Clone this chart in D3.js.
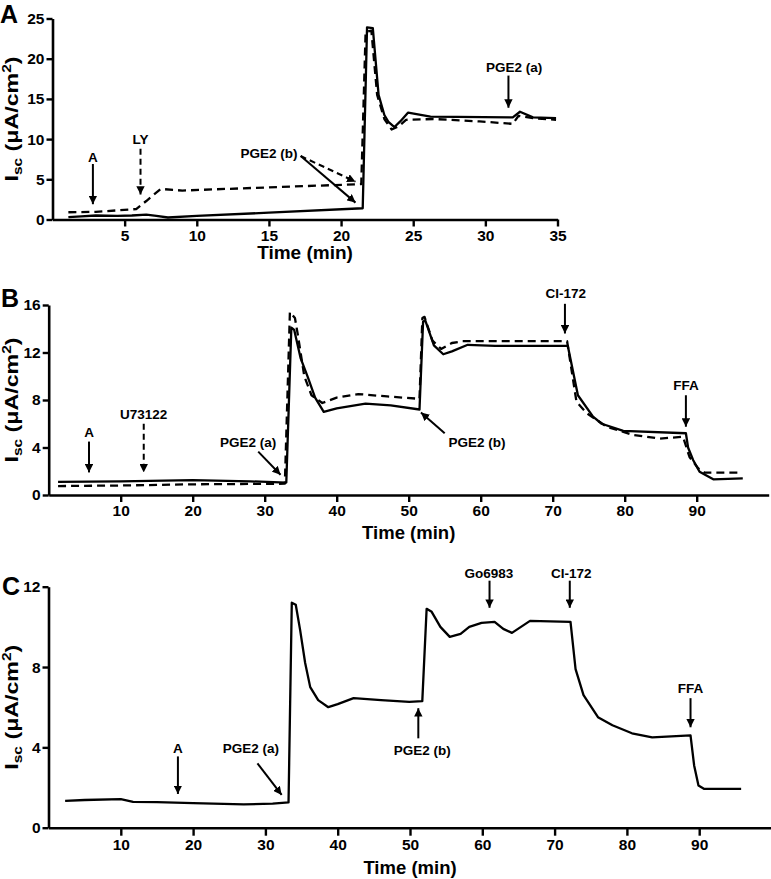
<!DOCTYPE html>
<html>
<head>
<meta charset="utf-8">
<script src="https://cdn.jsdelivr.net/npm/d3@7"></script>
<style>
  html, body { margin: 0; padding: 0; background: #fff; }
  svg { display: block; }
</style>
</head>
<body>
<svg id="chart" width="771" height="879"></svg>
<script>
// ---------------- DATA ----------------
// Panel A (time in min, Isc in µA/cm²)
const aSolid = [[1.1,0.3],[2,0.4],[3,0.5],[4.5,0.45],[5.5,0.5],[6.5,0.6],[7.2,0.45],[8,0.25],[10,0.45],[15,0.85],[21.5,1.4],[21.8,23.9],[22.2,23.8],[22.6,15.5],[23,13.0],[23.3,12.1],[23.7,11.5],[24.1,12.2],[24.65,13.3],[26.2,12.8],[31.9,12.7],[32.4,13.4],[33.3,12.7],[34.9,12.6]];
const aDashed = [[1.1,0.9],[3,0.95],[5.8,1.3],[6.5,2.3],[7.5,3.8],[9,3.6],[15,4.0],[21.4,4.4],[21.7,23.3],[22.1,23.5],[22.5,15.5],[23,12.5],[23.5,11.2],[24,11.6],[24.5,12.4],[26.4,12.5],[29.6,12.2],[31.9,11.9],[32.3,12.9],[33.3,12.6],[34.9,12.4]];
const aYTicks = [0,5,10,15,20,25];
const aXTicks = [5,10,15,20,25,30,35];
// annotations: label, label t, label v, arrow from (t,v) to (t,v), dashed
const aNotes = [
  {label:"A", lt:2.8, lv:7.2, x1:2.8, y1:6.9, x2:2.8, y2:1.9, dashed:false},
  {label:"LY", lt:6.1, lv:9.4, x1:6.1, y1:8.8, x2:6.1, y2:3.1, dashed:true},
  {label:"PGE2 (b)", lt:15.0, lv:7.6, x1:17.2, y1:7.9, x2:21.0, y2:2.1, dashed:false},
  {label:null, lt:0, lv:0, x1:17.2, y1:7.9, x2:21.0, y2:4.7, dashed:true},
  {label:"PGE2 (a)", lt:32.0, lv:18.3, x1:31.6, y1:17.9, x2:31.6, y2:13.9, dashed:false}
];

// Panel B
const bSolid = [[1.3,1.1],[10,1.15],[20,1.25],[28,1.15],[33,1.05],[33.7,14.1],[34.1,13.9],[35,11.5],[36,9.9],[37,8.2],[38.2,7.0],[40,7.3],[44,7.7],[47.5,7.55],[51.5,7.2],[52,14.6],[52.3,14.7],[53.5,12.6],[54.8,11.85],[56,12.1],[58.2,12.65],[62,12.55],[72.1,12.55],[73.5,8.4],[75.6,6.6],[76.8,6.0],[79.8,5.4],[88.5,5.2],[88.8,4.0],[89.5,2.95],[90.4,1.96],[92.3,1.32],[96.4,1.4]];
const bDashed = [[1.3,0.75],[10,0.8],[20,0.9],[32.8,0.95],[33.5,15.4],[34.2,14.9],[34.6,13.5],[35.5,10],[36.5,8.4],[38,7.75],[40,8.2],[43,8.5],[47,8.3],[51.5,8.1],[51.9,14.9],[52.2,15.0],[53.3,13.0],[54.5,12.3],[56,12.8],[57.5,12.95],[72,12.95],[73.3,7.86],[74.7,6.9],[77.5,5.75],[81.2,5.05],[84.9,4.75],[88.1,4.9],[89,3.2],[90.2,2.25],[91.1,1.88],[96.2,1.88]];
const bYTicks = [0,4,8,12,16];
const bXTicks = [10,20,30,40,50,60,70,80,90];
const bNotes = [
  {label:"A", lt:5.6, lv:4.9, x1:5.6, y1:4.5, x2:5.6, y2:1.9, dashed:false},
  {label:"U73122", lt:13.2, lv:6.4, x1:13.2, y1:6.0, x2:13.2, y2:1.9, dashed:true},
  {label:"PGE2 (a)", lt:27.7, lv:4.05, x1:29.1, y1:3.65, x2:32.2, y2:1.7, dashed:false},
  {label:"CI-172", lt:71.8, lv:16.55, x1:71.7, y1:16.1, x2:71.7, y2:13.6, dashed:false},
  {label:"PGE2 (b)", lt:59.5, lv:4.05, x1:55.0, y1:5.2, x2:51.7, y2:6.95, dashed:false},
  {label:"FFA", lt:88.5, lv:8.85, x1:88.5, y1:8.4, x2:88.5, y2:5.75, dashed:false}
];

// Panel C
const cSolid = [[2.3,1.34],[5,1.38],[10,1.42],[11.7,1.29],[15,1.27],[20,1.22],[27,1.16],[31,1.2],[33.2,1.26],[33.65,11.2],[34.2,11.1],[34.8,9.85],[35.5,8.2],[36.2,7.0],[37.3,6.35],[38.7,6.0],[40,6.15],[42.2,6.45],[46,6.35],[49.9,6.27],[51.7,6.3],[52.3,10.9],[53,10.75],[54.2,10.0],[55.5,9.5],[57,9.65],[58.2,10.0],[59.9,10.2],[61.7,10.25],[62.9,9.9],[64.1,9.7],[66.6,10.3],[72.2,10.25],[72.9,7.9],[74,6.6],[76,5.5],[78,5.1],[80.7,4.7],[83.5,4.5],[88.8,4.6],[89.3,3.1],[89.9,2.1],[90.7,1.93],[95.8,1.93]];
const cYTicks = [0,4,8,12];
const cXTicks = [10,20,30,40,50,60,70,80,90];
const cNotes = [
  {label:"A", lt:17.9, lv:3.7, x1:17.9, y1:3.55, x2:17.9, y2:1.68, dashed:false},
  {label:"PGE2 (a)", lt:28.0, lv:3.7, x1:28.9, y1:3.2, x2:32.25, y2:1.63, dashed:false},
  {label:"Go6983", lt:60.9, lv:12.45, x1:61.0, y1:12.3, x2:61.0, y2:10.95, dashed:false},
  {label:"CI-172", lt:72.3, lv:12.45, x1:72.1, y1:12.3, x2:72.1, y2:10.95, dashed:false},
  {label:"PGE2 (b)", lt:51.7, lv:3.62, x1:51.15, y1:4.45, x2:51.15, y2:5.95, dashed:false},
  {label:"FFA", lt:88.8, lv:6.7, x1:88.8, y1:6.45, x2:88.8, y2:5.0, dashed:false}
];

// ---------------- DRAWING ----------------
const FONT = "'Liberation Sans', Arial, Helvetica, sans-serif";
const svg = d3.select("#chart");

const defs = svg.append("defs");
defs.append("marker")
  .attr("id","arrow")
  .attr("viewBox","0 0 10 10")
  .attr("refX",10).attr("refY",5)
  .attr("markerWidth",4.2).attr("markerHeight",4.2)
  .attr("markerUnits","strokeWidth")
  .attr("orient","auto")
  .append("path").attr("d","M0,0 L10,5 L0,10 Z").attr("fill","#000");

const panels = [
  {letter:"A", letterX:0, letterY:23, solid:aSolid, dashed:aDashed, xDom:[0,35], xRange:[52.5,557.5], yDom:[0,25], yRange:[219.5,18.5], xTicks:aXTicks, yTicks:aYTicks, notes:aNotes, timeY:259, timeSize:19, xTickSize:7},
  {letter:"B", letterX:1, letterY:307, solid:bSolid, dashed:bDashed, xDom:[0,100], xRange:[48.7,768.7], yDom:[0,16], yRange:[495,305], xTicks:bXTicks, yTicks:bYTicks, notes:bNotes, timeY:539, timeSize:18.5, xTickSize:7},
  {letter:"C", letterX:2, letterY:595, solid:cSolid, dashed:null, xDom:[0,100], xRange:[48.5,771.5], yDom:[0,12], yRange:[827.7,586.7], xTicks:cXTicks, yTicks:cYTicks, notes:cNotes, timeY:874, timeSize:18.5, xTickSize:8}
];

panels.forEach(p => {
  const g = svg.append("g");
  const x = d3.scaleLinear().domain(p.xDom).range(p.xRange);
  const y = d3.scaleLinear().domain(p.yDom).range(p.yRange);

  // axes
  const xAxis = d3.axisBottom(x).tickValues(p.xTicks).tickSizeInner(p.xTickSize).tickSizeOuter(0).tickPadding(3).tickFormat(d3.format("d"));
  const yAxis = d3.axisLeft(y).tickValues(p.yTicks).tickSizeInner(6).tickSizeOuter(0).tickPadding(2).tickFormat(d3.format("d"));

  const gx = g.append("g").attr("transform",`translate(0,${p.yRange[0]})`).call(xAxis);
  const gy = g.append("g").attr("transform",`translate(${p.xRange[0]},0)`).call(yAxis);
  [gx, gy].forEach(a => {
    a.select(".domain").attr("stroke","#000").attr("stroke-width",2.6);
    a.selectAll(".tick line").attr("stroke","#000").attr("stroke-width",2.4);
    a.selectAll(".tick text").attr("fill","#000").attr("font-family",FONT).attr("font-weight","bold").attr("font-size",15.5);
  });

  // lines
  const line = d3.line().x(d => x(d[0])).y(d => y(d[1]));
  if (p.dashed) {
    g.append("path").datum(p.dashed).attr("d",line).attr("fill","none")
      .attr("stroke","#000").attr("stroke-width",2.3).attr("stroke-dasharray","8,5").attr("stroke-linejoin","round");
  }
  g.append("path").datum(p.solid).attr("d",line).attr("fill","none")
    .attr("stroke","#000").attr("stroke-width",2.3).attr("stroke-linejoin","round");

  // annotations
  p.notes.forEach(n => {
    g.append("line")
      .attr("x1",x(n.x1)).attr("y1",y(n.y1)).attr("x2",x(n.x2)).attr("y2",y(n.y2))
      .attr("stroke","#000").attr("stroke-width",2)
      .attr("stroke-dasharray", n.dashed ? "6,4" : null)
      .attr("marker-end","url(#arrow)");
    if (n.label) {
      g.append("text").attr("x",x(n.lt)).attr("y",y(n.lv))
        .attr("text-anchor","middle").attr("font-family",FONT).attr("font-weight","bold")
        .attr("font-size",13.5).attr("fill","#000").text(n.label);
    }
  });

  // x title
  g.append("text").attr("x",(p.xRange[0]+p.xRange[1])/2).attr("y",p.timeY)
    .attr("text-anchor","middle").attr("font-family",FONT).attr("font-weight","bold")
    .attr("font-size",p.timeSize).attr("fill","#000").text("Time (min)");

  // y title
  const yc = (p.yRange[0]+p.yRange[1])/2;
  const yt = g.append("text").attr("transform",`translate(18,${yc}) rotate(-90)`)
    .attr("text-anchor","middle").attr("font-family",FONT).attr("font-weight","bold")
    .attr("font-size",18).attr("fill","#000")
    .attr("textLength",125).attr("lengthAdjust","spacingAndGlyphs");
  yt.append("tspan").text("I");
  yt.append("tspan").attr("font-size",12).attr("dy",4).text("sc");
  yt.append("tspan").attr("dy",-4).text(" (\u03bcA/cm");
  yt.append("tspan").attr("font-size",12).attr("dy",-7).text("2");
  yt.append("tspan").attr("dy",7).text(")");

  // panel letter
  g.append("text").attr("x",p.letterX).attr("y",p.letterY)
    .attr("font-family",FONT).attr("font-weight","bold").attr("font-size",25)
    .attr("fill","#000").text(p.letter);
});
</script>
</body>
</html>
